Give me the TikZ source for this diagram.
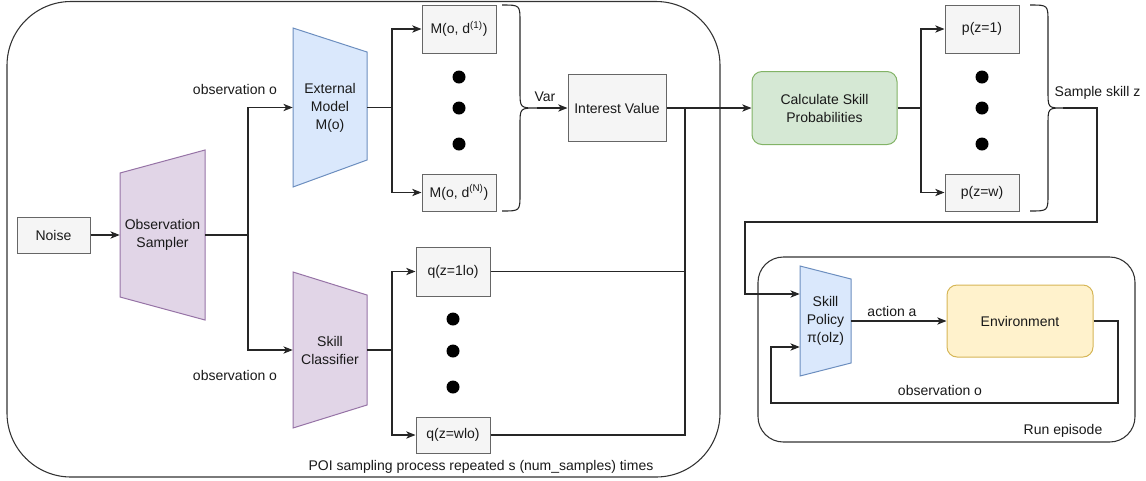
\documentclass[tikz,border=0pt]{standalone}
\usepackage{fontspec}
\setmainfont{Liberation Sans}
\usetikzlibrary{arrows.meta,calc}
\definecolor{grayfill}{HTML}{F5F5F5}
\definecolor{graystroke}{HTML}{666666}
\definecolor{purfill}{HTML}{E1D5E7}
\definecolor{purstroke}{HTML}{9673A6}
\definecolor{bluefill}{HTML}{DAE8FC}
\definecolor{bluestroke}{HTML}{6C8EBF}
\definecolor{greenfill}{HTML}{D5E8D4}
\definecolor{greenstroke}{HTML}{82B366}
\definecolor{yelfill}{HTML}{FFF2CC}
\definecolor{yelstroke}{HTML}{D6B656}
\begin{document}
\begin{tikzpicture}[x=0.75pt,y=-0.75pt,
  every node/.style={font=\fontsize{10.5}{13.5}\selectfont, inner sep=0pt, align=center, text=black!90},
  graybox/.style={draw=graystroke, fill=grayfill, line width=0.75pt},
  conn/.style={line width=0.8pt, draw=black!85},
  arr/.style={conn, -{Stealth[length=7pt,width=5.5pt,inset=2pt]}},
  dotnode/.style={circle, fill=black, minimum size=9.75pt},
  container/.style={draw=black!80, line width=0.8pt},
  purtrap/.style={fill=purfill, draw=purstroke, line width=0.75pt},
  bluetrap/.style={fill=bluefill, draw=bluestroke, line width=0.75pt}]
\useasboundingbox (0,0) rectangle (1146,480);

% containers
\draw[container, rounded corners=48pt] (7,1.5) rectangle (720,477);
\draw[container, rounded corners=19pt] (758,257) rectangle (1135,442);
\node (poilbl) at (481,467) {POI sampling process repeated s (num\_samples) times};
\node (runlbl) at (1063,431) {Run episode};

% noise
\node[graybox, minimum width={73*0.75pt}, minimum height={36*0.75pt}] (noise) at (53.5,235) {Noise};

% trapezoids
\draw[purtrap] (120,173) -- (205,150) -- (205,320) -- (120,297) -- cycle;
\node[minimum width={85*0.75pt}, minimum height={170*0.75pt}] (obs) at (162.5,235) {Observation\\Sampler};
\draw[bluetrap] (293,28) -- (367,52) -- (367,160) -- (293,187) -- cycle;
\node[minimum width={74*0.75pt}, minimum height={159*0.75pt}] (ext) at (330,107.5) {External\\Model\\M(o)};
\draw[purtrap] (293,272) -- (367,295) -- (367,405) -- (293,428) -- cycle;
\node[minimum width={74*0.75pt}, minimum height={156*0.75pt}] (cls) at (330,350) {Skill\\Classifier};
\draw[bluetrap] (800,266) -- (851,279) -- (851,363) -- (800,376) -- cycle;
\node[minimum width={51*0.75pt}, minimum height={110*0.75pt}] (pol) at (825.5,321) {Skill\\Policy\\π(olz)};

% M boxes
\node[graybox, minimum width={74*0.75pt}, minimum height={48*0.75pt}] (m1) at (459,29) {M(o, d\textsuperscript{(1)})};
\node[graybox, minimum width={74*0.75pt}, minimum height={37*0.75pt}] (mn) at (459,192.5) {M(o, d\textsuperscript{(N)})};
\node[dotnode] (d1) at (459,77) {};
\node[dotnode] (d2) at (459,108) {};
\node[dotnode] (d3) at (459,144) {};

% q boxes
\node[graybox, minimum width={74*0.75pt}, minimum height={49*0.75pt}] (q1) at (453,271.5) {q(z=1lo)};
\node[graybox, minimum width={74*0.75pt}, minimum height={36*0.75pt}] (qw) at (453,435) {q(z=wlo)};
\node[dotnode] (d4) at (453,319) {};
\node[dotnode] (d5) at (453,351) {};
\node[dotnode] (d6) at (453,387) {};

% interest value
\node[graybox, minimum width={98*0.75pt}, minimum height={67*0.75pt}] (iv) at (617,108) {Interest Value};

% calculate
\node[draw=greenstroke, fill=greenfill, line width=0.75pt, rounded corners=7.5pt, minimum width={145*0.75pt}, minimum height={73*0.75pt}] (calc) at (824.5,108) {Calculate Skill\\Probabilities};

% p boxes
\node[graybox, minimum width={74*0.75pt}, minimum height={48*0.75pt}] (p1) at (982,29) {p(z=1)};
\node[graybox, minimum width={74*0.75pt}, minimum height={37*0.75pt}] (pw) at (982,192.5) {p(z=w)};
\node[dotnode] (d7) at (982,77) {};
\node[dotnode] (d8) at (982,108) {};
\node[dotnode] (d9) at (982,144) {};

% environment
\node[draw=yelstroke, fill=yelfill, line width=0.75pt, rounded corners=7.5pt, minimum width={146*0.75pt}, minimum height={72*0.75pt}] (env) at (1020,321) {Environment};

% braces
\draw[conn] (502,5) .. controls (520,5) .. (520,22) -- (520,91) .. controls (520,108) .. (537,108) .. controls (520,108) .. (520,125) -- (520,194) .. controls (520,211) .. (502,211);
\coordinate (b1tip) at (537,108);
\draw[conn] (1030,5) .. controls (1048,5) .. (1048,22) -- (1048,91) .. controls (1048,108) .. (1063,108) .. controls (1048,108) .. (1048,125) -- (1048,194) .. controls (1048,211) .. (1030,211);
\coordinate (b2tip) at (1063,108);

% labels
\node (obs1) at (235,89) {observation o};
\node (obs2) at (235,375) {observation o};
\node (varl) at (545,97) {Var};
\node (ssz) at (1097.5,93) {Sample skill z};
\node (acta) at (892,311) {action a};
\node (obs3) at (940,390) {observation o};

% connectors
\draw[arr] (noise) -- (obs);
\coordinate (j1) at (248,235);
\draw[conn] (obs.east) -- (j1);
\draw[arr] (j1) |- (ext.west);
\draw[arr] (j1) |- (cls.west);
\coordinate (j2) at (392,107.5);
\draw[conn] (ext.east) -- (j2);
\draw[arr] (j2) |- (m1.west);
\draw[arr] (j2) |- (mn.west);
\coordinate (j3) at (392,350);
\draw[conn] (cls.east) -- (j3);
\draw[arr] (j3) |- (q1.west);
\draw[arr] (j3) |- (qw.west);
\draw[arr] (b1tip) -- (iv.west);
\draw[arr] (iv.east) -- (calc.west);
\coordinate (j4) at (685,108);
\draw[conn] (q1.east) -| (j4);
\draw[conn] (qw.east) -| (j4);
\coordinate (j5) at (921,108);
\draw[conn] (calc.east) -- (j5);
\draw[arr] (j5) |- (p1.west);
\draw[arr] (j5) |- (pw.west);
\coordinate (k1) at (1097,222);
\coordinate (k2) at (745,294);
\draw[arr] (b2tip) -| (k1) -| (k2) -- (k2 -| pol.west);
\draw[arr] (pol.east) -- (env.west);
\coordinate (f1) at (1118,403);
\coordinate (f2) at (771,347);
\draw[arr] (env.east) -| (f1) -| (f2) -- (f2 -| pol.west);
\end{tikzpicture}
\end{document}
